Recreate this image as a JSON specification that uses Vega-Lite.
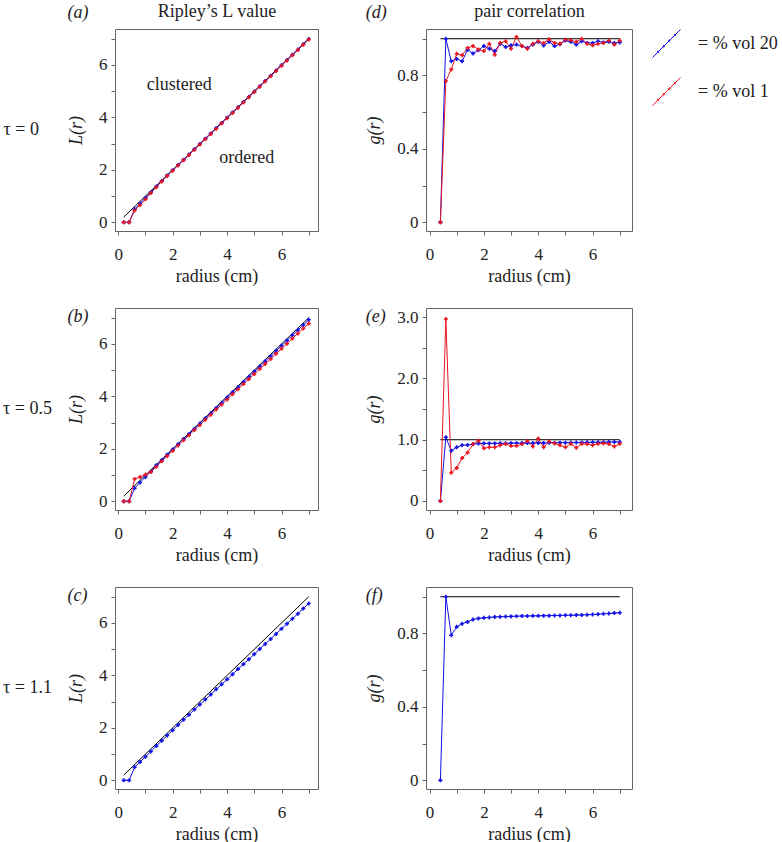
{
  "$schema": "https://vega.github.io/schema/vega-lite/v6.json",
  "autosize": {"type": "none"},
  "padding": {"left": 115, "top": 29, "right": 667, "bottom": 813},
  "background": "white",
  "bounds": "flush",
  "spacing": 279,
  "config": {
    "font": "Liberation Serif",
    "view": {"stroke": "#666", "strokeWidth": 1},
    "axis": {"labelFont": "Liberation Serif", "labelFontSize": 17, "labelColor": "#222", "titleFont": "Liberation Serif", "titleFontSize": 18, "titleFontWeight": "normal", "titleColor": "#222", "tickColor": "#666", "tickSize": 4, "domain": false, "grid": false, "labelPadding": 4, "labelFlush": false},
    "axisBottom": {"labelPadding": 11},
    "title": {"font": "Liberation Serif", "fontSize": 18, "fontWeight": "normal", "color": "#222"},
    "legend": {"orient": "right", "offset": 19, "padding": 0, "symbolSize": 784, "symbolStrokeWidth": 1, "labelFont": "Liberation Serif", "labelFontSize": 18, "labelColor": "#222", "labelOffset": 17, "rowPadding": 15}
  },
  "datasets": {
    "ref": [
      {"p": "L", "r": 0.2, "v": 0.2}, {"p": "L", "r": 7.0, "v": 7.0},
      {"p": "g", "r": 0.4, "v": 1.0}, {"p": "g", "r": 7.0, "v": 1.0}
    ],
    "notes": [
      {"r": 2.24, "v": 5.22, "label": "clustered"},
      {"r": 4.72, "v": 2.46, "label": "ordered"}
    ],
    "L": [
      {"p":"a","s":"20","r":0.2,"v":0},{"p":"a","s":"20","r":0.4,"v":0},{"p":"a","s":"20","r":0.6,"v":0.5},{"p":"a","s":"20","r":0.8,"v":0.72},{"p":"a","s":"20","r":1.0,"v":0.93},{"p":"a","s":"20","r":1.2,"v":1.15},{"p":"a","s":"20","r":1.4,"v":1.37},{"p":"a","s":"20","r":1.6,"v":1.58},{"p":"a","s":"20","r":1.8,"v":1.79},{"p":"a","s":"20","r":2.0,"v":1.99},{"p":"a","s":"20","r":2.2,"v":2.19},{"p":"a","s":"20","r":2.4,"v":2.39},{"p":"a","s":"20","r":2.6,"v":2.59},{"p":"a","s":"20","r":2.8,"v":2.79},{"p":"a","s":"20","r":3.0,"v":2.99},{"p":"a","s":"20","r":3.2,"v":3.19},{"p":"a","s":"20","r":3.4,"v":3.39},{"p":"a","s":"20","r":3.6,"v":3.59},{"p":"a","s":"20","r":3.8,"v":3.79},{"p":"a","s":"20","r":4.0,"v":3.99},{"p":"a","s":"20","r":4.2,"v":4.19},{"p":"a","s":"20","r":4.4,"v":4.39},{"p":"a","s":"20","r":4.6,"v":4.59},{"p":"a","s":"20","r":4.8,"v":4.79},{"p":"a","s":"20","r":5.0,"v":4.99},{"p":"a","s":"20","r":5.2,"v":5.19},{"p":"a","s":"20","r":5.4,"v":5.39},{"p":"a","s":"20","r":5.6,"v":5.59},{"p":"a","s":"20","r":5.8,"v":5.79},{"p":"a","s":"20","r":6.0,"v":5.99},{"p":"a","s":"20","r":6.2,"v":6.19},{"p":"a","s":"20","r":6.4,"v":6.39},{"p":"a","s":"20","r":6.6,"v":6.59},{"p":"a","s":"20","r":6.8,"v":6.79},{"p":"a","s":"20","r":7.0,"v":6.99},
      {"p":"a","s":"1","r":0.2,"v":0},{"p":"a","s":"1","r":0.4,"v":0},{"p":"a","s":"1","r":0.6,"v":0.45},{"p":"a","s":"1","r":0.8,"v":0.66},{"p":"a","s":"1","r":1.0,"v":0.88},{"p":"a","s":"1","r":1.2,"v":1.12},{"p":"a","s":"1","r":1.4,"v":1.34},{"p":"a","s":"1","r":1.6,"v":1.56},{"p":"a","s":"1","r":1.8,"v":1.77},{"p":"a","s":"1","r":2.0,"v":1.97},{"p":"a","s":"1","r":2.2,"v":2.17},{"p":"a","s":"1","r":2.4,"v":2.37},{"p":"a","s":"1","r":2.6,"v":2.57},{"p":"a","s":"1","r":2.8,"v":2.77},{"p":"a","s":"1","r":3.0,"v":2.97},{"p":"a","s":"1","r":3.2,"v":3.17},{"p":"a","s":"1","r":3.4,"v":3.37},{"p":"a","s":"1","r":3.6,"v":3.57},{"p":"a","s":"1","r":3.8,"v":3.77},{"p":"a","s":"1","r":4.0,"v":3.97},{"p":"a","s":"1","r":4.2,"v":4.17},{"p":"a","s":"1","r":4.4,"v":4.37},{"p":"a","s":"1","r":4.6,"v":4.57},{"p":"a","s":"1","r":4.8,"v":4.77},{"p":"a","s":"1","r":5.0,"v":4.97},{"p":"a","s":"1","r":5.2,"v":5.17},{"p":"a","s":"1","r":5.4,"v":5.37},{"p":"a","s":"1","r":5.6,"v":5.57},{"p":"a","s":"1","r":5.8,"v":5.77},{"p":"a","s":"1","r":6.0,"v":5.97},{"p":"a","s":"1","r":6.2,"v":6.17},{"p":"a","s":"1","r":6.4,"v":6.37},{"p":"a","s":"1","r":6.6,"v":6.57},{"p":"a","s":"1","r":6.8,"v":6.77},{"p":"a","s":"1","r":7.0,"v":6.97},
      {"p":"b","s":"20","r":0.2,"v":0},{"p":"b","s":"20","r":0.4,"v":0},{"p":"b","s":"20","r":0.6,"v":0.5},{"p":"b","s":"20","r":0.8,"v":0.72},{"p":"b","s":"20","r":1.0,"v":0.93},{"p":"b","s":"20","r":1.2,"v":1.14},{"p":"b","s":"20","r":1.4,"v":1.38},{"p":"b","s":"20","r":1.6,"v":1.58},{"p":"b","s":"20","r":1.8,"v":1.78},{"p":"b","s":"20","r":2.0,"v":1.98},{"p":"b","s":"20","r":2.2,"v":2.18},{"p":"b","s":"20","r":2.4,"v":2.38},{"p":"b","s":"20","r":2.6,"v":2.57},{"p":"b","s":"20","r":2.8,"v":2.77},{"p":"b","s":"20","r":3.0,"v":2.97},{"p":"b","s":"20","r":3.2,"v":3.17},{"p":"b","s":"20","r":3.4,"v":3.36},{"p":"b","s":"20","r":3.6,"v":3.56},{"p":"b","s":"20","r":3.8,"v":3.76},{"p":"b","s":"20","r":4.0,"v":3.96},{"p":"b","s":"20","r":4.2,"v":4.16},{"p":"b","s":"20","r":4.4,"v":4.35},{"p":"b","s":"20","r":4.6,"v":4.55},{"p":"b","s":"20","r":4.8,"v":4.75},{"p":"b","s":"20","r":5.0,"v":4.95},{"p":"b","s":"20","r":5.2,"v":5.14},{"p":"b","s":"20","r":5.4,"v":5.34},{"p":"b","s":"20","r":5.6,"v":5.54},{"p":"b","s":"20","r":5.8,"v":5.74},{"p":"b","s":"20","r":6.0,"v":5.93},{"p":"b","s":"20","r":6.2,"v":6.13},{"p":"b","s":"20","r":6.4,"v":6.33},{"p":"b","s":"20","r":6.6,"v":6.53},{"p":"b","s":"20","r":6.8,"v":6.72},{"p":"b","s":"20","r":7.0,"v":6.92},
      {"p":"b","s":"1","r":0.2,"v":0},{"p":"b","s":"1","r":0.4,"v":0},{"p":"b","s":"1","r":0.6,"v":0.85},{"p":"b","s":"1","r":0.8,"v":0.93},{"p":"b","s":"1","r":1.0,"v":1.02},{"p":"b","s":"1","r":1.2,"v":1.12},{"p":"b","s":"1","r":1.4,"v":1.32},{"p":"b","s":"1","r":1.6,"v":1.53},{"p":"b","s":"1","r":1.8,"v":1.73},{"p":"b","s":"1","r":2.0,"v":1.93},{"p":"b","s":"1","r":2.2,"v":2.13},{"p":"b","s":"1","r":2.4,"v":2.33},{"p":"b","s":"1","r":2.6,"v":2.52},{"p":"b","s":"1","r":2.8,"v":2.72},{"p":"b","s":"1","r":3.0,"v":2.91},{"p":"b","s":"1","r":3.2,"v":3.11},{"p":"b","s":"1","r":3.4,"v":3.30},{"p":"b","s":"1","r":3.6,"v":3.50},{"p":"b","s":"1","r":3.8,"v":3.69},{"p":"b","s":"1","r":4.0,"v":3.88},{"p":"b","s":"1","r":4.2,"v":4.08},{"p":"b","s":"1","r":4.4,"v":4.27},{"p":"b","s":"1","r":4.6,"v":4.47},{"p":"b","s":"1","r":4.8,"v":4.66},{"p":"b","s":"1","r":5.0,"v":4.85},{"p":"b","s":"1","r":5.2,"v":5.05},{"p":"b","s":"1","r":5.4,"v":5.24},{"p":"b","s":"1","r":5.6,"v":5.43},{"p":"b","s":"1","r":5.8,"v":5.63},{"p":"b","s":"1","r":6.0,"v":5.82},{"p":"b","s":"1","r":6.2,"v":6.01},{"p":"b","s":"1","r":6.4,"v":6.21},{"p":"b","s":"1","r":6.6,"v":6.40},{"p":"b","s":"1","r":6.8,"v":6.59},{"p":"b","s":"1","r":7.0,"v":6.78},
      {"p":"c","s":"20","r":0.2,"v":0},{"p":"c","s":"20","r":0.4,"v":0},{"p":"c","s":"20","r":0.6,"v":0.5},{"p":"c","s":"20","r":0.8,"v":0.7},{"p":"c","s":"20","r":1.0,"v":0.9},{"p":"c","s":"20","r":1.2,"v":1.1},{"p":"c","s":"20","r":1.4,"v":1.31},{"p":"c","s":"20","r":1.6,"v":1.51},{"p":"c","s":"20","r":1.8,"v":1.71},{"p":"c","s":"20","r":2.0,"v":1.91},{"p":"c","s":"20","r":2.2,"v":2.11},{"p":"c","s":"20","r":2.4,"v":2.31},{"p":"c","s":"20","r":2.6,"v":2.50},{"p":"c","s":"20","r":2.8,"v":2.70},{"p":"c","s":"20","r":3.0,"v":2.89},{"p":"c","s":"20","r":3.2,"v":3.08},{"p":"c","s":"20","r":3.4,"v":3.27},{"p":"c","s":"20","r":3.6,"v":3.47},{"p":"c","s":"20","r":3.8,"v":3.66},{"p":"c","s":"20","r":4.0,"v":3.85},{"p":"c","s":"20","r":4.2,"v":4.04},{"p":"c","s":"20","r":4.4,"v":4.24},{"p":"c","s":"20","r":4.6,"v":4.43},{"p":"c","s":"20","r":4.8,"v":4.62},{"p":"c","s":"20","r":5.0,"v":4.81},{"p":"c","s":"20","r":5.2,"v":5.01},{"p":"c","s":"20","r":5.4,"v":5.20},{"p":"c","s":"20","r":5.6,"v":5.39},{"p":"c","s":"20","r":5.8,"v":5.58},{"p":"c","s":"20","r":6.0,"v":5.78},{"p":"c","s":"20","r":6.2,"v":5.97},{"p":"c","s":"20","r":6.4,"v":6.16},{"p":"c","s":"20","r":6.6,"v":6.35},{"p":"c","s":"20","r":6.8,"v":6.55},{"p":"c","s":"20","r":7.0,"v":6.74}
    ],
    "G": [
      {"p":"d","s":"20","r":0.4,"v":0},{"p":"d","s":"20","r":0.6,"v":1.0},{"p":"d","s":"20","r":0.8,"v":0.877},{"p":"d","s":"20","r":1.0,"v":0.89},{"p":"d","s":"20","r":1.2,"v":0.878},{"p":"d","s":"20","r":1.4,"v":0.94},{"p":"d","s":"20","r":1.6,"v":0.92},{"p":"d","s":"20","r":1.8,"v":0.937},{"p":"d","s":"20","r":2.0,"v":0.96},{"p":"d","s":"20","r":2.2,"v":0.946},{"p":"d","s":"20","r":2.4,"v":0.933},{"p":"d","s":"20","r":2.6,"v":0.973},{"p":"d","s":"20","r":2.8,"v":0.955},{"p":"d","s":"20","r":3.0,"v":0.964},{"p":"d","s":"20","r":3.2,"v":0.968},{"p":"d","s":"20","r":3.4,"v":0.96},{"p":"d","s":"20","r":3.6,"v":0.95},{"p":"d","s":"20","r":3.8,"v":0.968},{"p":"d","s":"20","r":4.0,"v":0.983},{"p":"d","s":"20","r":4.2,"v":0.963},{"p":"d","s":"20","r":4.4,"v":0.983},{"p":"d","s":"20","r":4.6,"v":0.96},{"p":"d","s":"20","r":4.8,"v":0.97},{"p":"d","s":"20","r":5.0,"v":0.99},{"p":"d","s":"20","r":5.2,"v":0.983},{"p":"d","s":"20","r":5.4,"v":0.968},{"p":"d","s":"20","r":5.6,"v":0.986},{"p":"d","s":"20","r":5.8,"v":0.977},{"p":"d","s":"20","r":6.0,"v":0.977},{"p":"d","s":"20","r":6.2,"v":0.986},{"p":"d","s":"20","r":6.4,"v":0.98},{"p":"d","s":"20","r":6.6,"v":0.983},{"p":"d","s":"20","r":6.8,"v":0.977},{"p":"d","s":"20","r":7.0,"v":0.98},
      {"p":"d","s":"1","r":0.4,"v":0},{"p":"d","s":"1","r":0.6,"v":0.77},{"p":"d","s":"1","r":0.8,"v":0.833},{"p":"d","s":"1","r":1.0,"v":0.918},{"p":"d","s":"1","r":1.2,"v":0.91},{"p":"d","s":"1","r":1.4,"v":0.95},{"p":"d","s":"1","r":1.6,"v":0.96},{"p":"d","s":"1","r":1.8,"v":0.942},{"p":"d","s":"1","r":2.0,"v":0.933},{"p":"d","s":"1","r":2.2,"v":0.973},{"p":"d","s":"1","r":2.4,"v":0.913},{"p":"d","s":"1","r":2.6,"v":0.977},{"p":"d","s":"1","r":2.8,"v":0.986},{"p":"d","s":"1","r":3.0,"v":0.946},{"p":"d","s":"1","r":3.2,"v":1.01},{"p":"d","s":"1","r":3.4,"v":0.96},{"p":"d","s":"1","r":3.6,"v":0.946},{"p":"d","s":"1","r":3.8,"v":0.973},{"p":"d","s":"1","r":4.0,"v":0.986},{"p":"d","s":"1","r":4.2,"v":0.977},{"p":"d","s":"1","r":4.4,"v":0.997},{"p":"d","s":"1","r":4.6,"v":0.977},{"p":"d","s":"1","r":4.8,"v":0.973},{"p":"d","s":"1","r":5.0,"v":0.995},{"p":"d","s":"1","r":5.2,"v":0.992},{"p":"d","s":"1","r":5.4,"v":0.983},{"p":"d","s":"1","r":5.6,"v":1.0},{"p":"d","s":"1","r":5.8,"v":0.973},{"p":"d","s":"1","r":6.0,"v":0.964},{"p":"d","s":"1","r":6.2,"v":0.973},{"p":"d","s":"1","r":6.4,"v":0.977},{"p":"d","s":"1","r":6.6,"v":0.99},{"p":"d","s":"1","r":6.8,"v":0.968},{"p":"d","s":"1","r":7.0,"v":0.99},
      {"p":"e","s":"20","r":0.4,"v":0},{"p":"e","s":"20","r":0.6,"v":1.04},{"p":"e","s":"20","r":0.8,"v":0.82},{"p":"e","s":"20","r":1.0,"v":0.876},{"p":"e","s":"20","r":1.2,"v":0.91},{"p":"e","s":"20","r":1.4,"v":0.915},{"p":"e","s":"20","r":1.6,"v":0.925},{"p":"e","s":"20","r":1.8,"v":0.94},{"p":"e","s":"20","r":2.0,"v":0.94},{"p":"e","s":"20","r":2.2,"v":0.94},{"p":"e","s":"20","r":2.4,"v":0.94},{"p":"e","s":"20","r":2.6,"v":0.942},{"p":"e","s":"20","r":2.8,"v":0.942},{"p":"e","s":"20","r":3.0,"v":0.944},{"p":"e","s":"20","r":3.2,"v":0.944},{"p":"e","s":"20","r":3.4,"v":0.945},{"p":"e","s":"20","r":3.6,"v":0.946},{"p":"e","s":"20","r":3.8,"v":0.946},{"p":"e","s":"20","r":4.0,"v":0.948},{"p":"e","s":"20","r":4.2,"v":0.948},{"p":"e","s":"20","r":4.4,"v":0.95},{"p":"e","s":"20","r":4.6,"v":0.95},{"p":"e","s":"20","r":4.8,"v":0.952},{"p":"e","s":"20","r":5.0,"v":0.952},{"p":"e","s":"20","r":5.2,"v":0.954},{"p":"e","s":"20","r":5.4,"v":0.954},{"p":"e","s":"20","r":5.6,"v":0.956},{"p":"e","s":"20","r":5.8,"v":0.957},{"p":"e","s":"20","r":6.0,"v":0.958},{"p":"e","s":"20","r":6.2,"v":0.959},{"p":"e","s":"20","r":6.4,"v":0.96},{"p":"e","s":"20","r":6.6,"v":0.961},{"p":"e","s":"20","r":6.8,"v":0.962},{"p":"e","s":"20","r":7.0,"v":0.963},
      {"p":"e","s":"1","r":0.4,"v":0},{"p":"e","s":"1","r":0.6,"v":2.97},{"p":"e","s":"1","r":0.8,"v":0.46},{"p":"e","s":"1","r":1.0,"v":0.54},{"p":"e","s":"1","r":1.2,"v":0.70},{"p":"e","s":"1","r":1.4,"v":0.79},{"p":"e","s":"1","r":1.6,"v":0.93},{"p":"e","s":"1","r":1.8,"v":0.985},{"p":"e","s":"1","r":2.0,"v":0.86},{"p":"e","s":"1","r":2.2,"v":0.876},{"p":"e","s":"1","r":2.4,"v":0.876},{"p":"e","s":"1","r":2.6,"v":0.91},{"p":"e","s":"1","r":2.8,"v":0.93},{"p":"e","s":"1","r":3.0,"v":0.9},{"p":"e","s":"1","r":3.2,"v":0.9},{"p":"e","s":"1","r":3.4,"v":0.925},{"p":"e","s":"1","r":3.6,"v":0.98},{"p":"e","s":"1","r":3.8,"v":0.89},{"p":"e","s":"1","r":4.0,"v":1.02},{"p":"e","s":"1","r":4.2,"v":0.876},{"p":"e","s":"1","r":4.4,"v":0.97},{"p":"e","s":"1","r":4.6,"v":0.94},{"p":"e","s":"1","r":4.8,"v":0.91},{"p":"e","s":"1","r":5.0,"v":0.876},{"p":"e","s":"1","r":5.2,"v":0.935},{"p":"e","s":"1","r":5.4,"v":0.87},{"p":"e","s":"1","r":5.6,"v":0.935},{"p":"e","s":"1","r":5.8,"v":0.93},{"p":"e","s":"1","r":6.0,"v":0.91},{"p":"e","s":"1","r":6.2,"v":0.935},{"p":"e","s":"1","r":6.4,"v":0.94},{"p":"e","s":"1","r":6.6,"v":0.93},{"p":"e","s":"1","r":6.8,"v":0.89},{"p":"e","s":"1","r":7.0,"v":0.935},
      {"p":"f","s":"20","r":0.4,"v":0},{"p":"f","s":"20","r":0.6,"v":1.0},{"p":"f","s":"20","r":0.8,"v":0.79},{"p":"f","s":"20","r":1.0,"v":0.836},{"p":"f","s":"20","r":1.2,"v":0.853},{"p":"f","s":"20","r":1.4,"v":0.863},{"p":"f","s":"20","r":1.6,"v":0.876},{"p":"f","s":"20","r":1.8,"v":0.882},{"p":"f","s":"20","r":2.0,"v":0.885},{"p":"f","s":"20","r":2.2,"v":0.887},{"p":"f","s":"20","r":2.4,"v":0.89},{"p":"f","s":"20","r":2.6,"v":0.891},{"p":"f","s":"20","r":2.8,"v":0.892},{"p":"f","s":"20","r":3.0,"v":0.893},{"p":"f","s":"20","r":3.2,"v":0.894},{"p":"f","s":"20","r":3.4,"v":0.895},{"p":"f","s":"20","r":3.6,"v":0.895},{"p":"f","s":"20","r":3.8,"v":0.896},{"p":"f","s":"20","r":4.0,"v":0.896},{"p":"f","s":"20","r":4.2,"v":0.897},{"p":"f","s":"20","r":4.4,"v":0.897},{"p":"f","s":"20","r":4.6,"v":0.898},{"p":"f","s":"20","r":4.8,"v":0.898},{"p":"f","s":"20","r":5.0,"v":0.899},{"p":"f","s":"20","r":5.2,"v":0.899},{"p":"f","s":"20","r":5.4,"v":0.9},{"p":"f","s":"20","r":5.6,"v":0.901},{"p":"f","s":"20","r":5.8,"v":0.902},{"p":"f","s":"20","r":6.0,"v":0.903},{"p":"f","s":"20","r":6.2,"v":0.905},{"p":"f","s":"20","r":6.4,"v":0.907},{"p":"f","s":"20","r":6.6,"v":0.909},{"p":"f","s":"20","r":6.8,"v":0.911},{"p":"f","s":"20","r":7.0,"v":0.913}
    ]
  },
  "vconcat": [
    {
      "title": {"text": "τ = 0", "orient": "left", "angle": 0, "align": "left", "baseline": "middle", "anchor": "middle", "frame": "group", "offset": 28, "dy": 101},
      "hconcat": [
        {
          "width": 203, "height": 202,
          "title": {"text": "(a)", "anchor": "start", "frame": "bounds", "offset": -20, "fontStyle": "italic"},
          "resolve": {"axis": {"x": "independent"}},
          "layer": [
            {"data": {"name": "ref"}, "transform": [{"filter": "datum.p === 'L'"}],
             "mark": {"type": "line", "color": "#000", "strokeWidth": 1},
             "encoding": {
               "x": {"field": "r", "type": "quantitative", "scale": {"domain": [-0.12, 7.34], "nice": false, "zero": false}, "axis": {"orient": "top", "labels": false, "ticks": false, "domain": false, "title": "Ripley’s L value", "titlePadding": 9}},
               "y": {"field": "v", "type": "quantitative", "scale": {"domain": [-0.33, 7.37], "nice": false, "zero": false}, "axis": {"values": [0,1,2,3,4,5,6,7], "labelExpr": "datum.value % 2 === 0 ? datum.label : ''", "title": "L(r)", "titleFontStyle": "italic", "titlePadding": 13}}
             }},
            {"data": {"name": "L"}, "transform": [{"filter": "datum.p === 'a'"}],
             "mark": {"type": "line", "strokeWidth": 1, "point": {"filled": true, "size": 16, "shape": "cross"}},
             "encoding": {
               "x": {"field": "r", "type": "quantitative", "scale": {"domain": [-0.12, 7.34], "nice": false, "zero": false}, "axis": {"orient": "bottom", "values": [0,1,2,3,4,5,6,7], "labelExpr": "datum.value % 2 === 0 ? datum.label : ''", "title": "radius (cm)", "titlePadding": 5}},
               "y": {"field": "v", "type": "quantitative", "scale": {"domain": [-0.33, 7.37], "nice": false, "zero": false}, "axis": {"values": [0,1,2,3,4,5,6,7], "labelExpr": "datum.value % 2 === 0 ? datum.label : ''", "title": "L(r)", "titleFontStyle": "italic", "titlePadding": 13}},
               "color": {"field": "s", "type": "nominal", "title": null, "scale": {"domain": ["20", "1"], "range": ["#1010e6", "#e8151e"]}, "legend": {"symbolType": "M-1,1L1,-1M-0.68,0.6L-0.52,0.6M-0.6,0.52L-0.6,0.68M-0.28,0.2L-0.12,0.2M-0.2,0.12L-0.2,0.28M0.12,-0.2L0.28,-0.2M0.2,-0.28L0.2,-0.12M0.52,-0.6L0.68,-0.6M0.6,-0.68L0.6,-0.52", "labelExpr": "'= % vol ' + datum.label", "encode": {"symbols": {"update": {"stroke": {"scale": "color", "field": "value"}, "fill": {"value": "transparent"}}}}}}
             }},
            {"data": {"name": "notes"},
             "mark": {"type": "text", "fontSize": 18, "font": "Liberation Serif", "color": "#222"},
             "encoding": {
               "x": {"field": "r", "type": "quantitative", "scale": {"domain": [-0.12, 7.34], "nice": false, "zero": false}, "axis": null},
               "y": {"field": "v", "type": "quantitative", "scale": {"domain": [-0.33, 7.37], "nice": false, "zero": false}, "axis": {"values": [0,1,2,3,4,5,6,7], "labelExpr": "datum.value % 2 === 0 ? datum.label : ''", "title": "L(r)", "titleFontStyle": "italic", "titlePadding": 13}},
               "text": {"field": "label"}
             }}
          ]
        },
        {
          "width": 206, "height": 202,
          "title": {"text": "(d)", "anchor": "start", "frame": "bounds", "offset": -20, "fontStyle": "italic"},
          "resolve": {"axis": {"x": "independent"}},
          "layer": [
            {"data": {"name": "ref"}, "transform": [{"filter": "datum.p === 'g'"}],
             "mark": {"type": "line", "color": "#000", "strokeWidth": 1},
             "encoding": {
               "x": {"field": "r", "type": "quantitative", "scale": {"domain": [-0.13, 7.45], "nice": false, "zero": false}, "axis": {"orient": "top", "labels": false, "ticks": false, "domain": false, "title": "pair correlation", "titlePadding": 9}},
               "y": {"field": "v", "type": "quantitative", "scale": {"domain": [-0.047, 1.053], "nice": false, "zero": false}, "axis": {"values": [0, 0.2, 0.4, 0.6, 0.8, 1.0], "labelExpr": "datum.value === 0 ? '0' : (datum.value === 0.4 || datum.value === 0.8) ? format(datum.value, '.1f') : ''", "title": "g(r)", "titleFontStyle": "italic", "titlePadding": 13}}
             }},
            {"data": {"name": "G"}, "transform": [{"filter": "datum.p === 'd'"}],
             "mark": {"type": "line", "strokeWidth": 1, "point": {"filled": true, "size": 16, "shape": "cross"}},
             "encoding": {
               "x": {"field": "r", "type": "quantitative", "scale": {"domain": [-0.13, 7.45], "nice": false, "zero": false}, "axis": {"orient": "bottom", "values": [0,1,2,3,4,5,6,7], "labelExpr": "datum.value % 2 === 0 ? datum.label : ''", "title": "radius (cm)", "titlePadding": 5}},
               "y": {"field": "v", "type": "quantitative", "scale": {"domain": [-0.047, 1.053], "nice": false, "zero": false}, "axis": {"values": [0, 0.2, 0.4, 0.6, 0.8, 1.0], "labelExpr": "datum.value === 0 ? '0' : (datum.value === 0.4 || datum.value === 0.8) ? format(datum.value, '.1f') : ''", "title": "g(r)", "titleFontStyle": "italic", "titlePadding": 13}},
               "color": {"field": "s", "type": "nominal", "title": null, "scale": {"domain": ["20", "1"], "range": ["#1010e6", "#e8151e"]}, "legend": {"symbolType": "M-1,1L1,-1M-0.68,0.6L-0.52,0.6M-0.6,0.52L-0.6,0.68M-0.28,0.2L-0.12,0.2M-0.2,0.12L-0.2,0.28M0.12,-0.2L0.28,-0.2M0.2,-0.28L0.2,-0.12M0.52,-0.6L0.68,-0.6M0.6,-0.68L0.6,-0.52", "labelExpr": "'= % vol ' + datum.label", "encode": {"symbols": {"update": {"stroke": {"scale": "color", "field": "value"}, "fill": {"value": "transparent"}}}}}}
             }}
          ]
        }
      ],
      "spacing": 108,
      "bounds": "flush"
    },
    {
      "title": {"text": "τ = 0.5", "orient": "left", "angle": 0, "align": "left", "baseline": "middle", "anchor": "middle", "frame": "group", "offset": 15, "dy": 101},
      "hconcat": [
        {
          "width": 203, "height": 202,
          "title": {"text": "(b)", "anchor": "start", "frame": "bounds", "offset": -18, "fontStyle": "italic"},
          "layer": [
            {"data": {"name": "ref"}, "transform": [{"filter": "datum.p === 'L'"}],
             "mark": {"type": "line", "color": "#000", "strokeWidth": 1},
             "encoding": {
               "x": {"field": "r", "type": "quantitative", "scale": {"domain": [-0.12, 7.34], "nice": false, "zero": false}, "axis": {"values": [0,1,2,3,4,5,6,7], "labelExpr": "datum.value % 2 === 0 ? datum.label : ''", "title": "radius (cm)", "titlePadding": 5}},
               "y": {"field": "v", "type": "quantitative", "scale": {"domain": [-0.33, 7.37], "nice": false, "zero": false}, "axis": {"values": [0,1,2,3,4,5,6,7], "labelExpr": "datum.value % 2 === 0 ? datum.label : ''", "title": "L(r)", "titleFontStyle": "italic", "titlePadding": 13}}
             }},
            {"data": {"name": "L"}, "transform": [{"filter": "datum.p === 'b'"}],
             "mark": {"type": "line", "strokeWidth": 1, "point": {"filled": true, "size": 16, "shape": "cross"}},
             "encoding": {
               "x": {"field": "r", "type": "quantitative", "scale": {"domain": [-0.12, 7.34], "nice": false, "zero": false}, "axis": {"values": [0,1,2,3,4,5,6,7], "labelExpr": "datum.value % 2 === 0 ? datum.label : ''", "title": "radius (cm)", "titlePadding": 5}},
               "y": {"field": "v", "type": "quantitative", "scale": {"domain": [-0.33, 7.37], "nice": false, "zero": false}, "axis": {"values": [0,1,2,3,4,5,6,7], "labelExpr": "datum.value % 2 === 0 ? datum.label : ''", "title": "L(r)", "titleFontStyle": "italic", "titlePadding": 13}},
               "color": {"field": "s", "type": "nominal", "title": null, "scale": {"domain": ["20", "1"], "range": ["#1010e6", "#e8151e"]}, "legend": {"symbolType": "M-1,1L1,-1M-0.68,0.6L-0.52,0.6M-0.6,0.52L-0.6,0.68M-0.28,0.2L-0.12,0.2M-0.2,0.12L-0.2,0.28M0.12,-0.2L0.28,-0.2M0.2,-0.28L0.2,-0.12M0.52,-0.6L0.68,-0.6M0.6,-0.68L0.6,-0.52", "labelExpr": "'= % vol ' + datum.label", "encode": {"symbols": {"update": {"stroke": {"scale": "color", "field": "value"}, "fill": {"value": "transparent"}}}}}}
             }}
          ]
        },
        {
          "width": 206, "height": 202,
          "title": {"text": "(e)", "anchor": "start", "frame": "bounds", "offset": -18, "fontStyle": "italic"},
          "layer": [
            {"data": {"name": "ref"}, "transform": [{"filter": "datum.p === 'g'"}],
             "mark": {"type": "line", "color": "#000", "strokeWidth": 1},
             "encoding": {
               "x": {"field": "r", "type": "quantitative", "scale": {"domain": [-0.13, 7.45], "nice": false, "zero": false}, "axis": {"values": [0,1,2,3,4,5,6,7], "labelExpr": "datum.value % 2 === 0 ? datum.label : ''", "title": "radius (cm)", "titlePadding": 5}},
               "y": {"field": "v", "type": "quantitative", "scale": {"domain": [-0.147, 3.15], "nice": false, "zero": false}, "axis": {"values": [0, 0.5, 1, 1.5, 2, 2.5, 3], "labelExpr": "datum.value === 0 ? '0' : datum.value % 1 === 0 ? format(datum.value, '.1f') : ''", "title": "g(r)", "titleFontStyle": "italic", "titlePadding": 13}}
             }},
            {"data": {"name": "G"}, "transform": [{"filter": "datum.p === 'e'"}],
             "mark": {"type": "line", "strokeWidth": 1, "point": {"filled": true, "size": 16, "shape": "cross"}},
             "encoding": {
               "x": {"field": "r", "type": "quantitative", "scale": {"domain": [-0.13, 7.45], "nice": false, "zero": false}, "axis": {"values": [0,1,2,3,4,5,6,7], "labelExpr": "datum.value % 2 === 0 ? datum.label : ''", "title": "radius (cm)", "titlePadding": 5}},
               "y": {"field": "v", "type": "quantitative", "scale": {"domain": [-0.147, 3.15], "nice": false, "zero": false}, "axis": {"values": [0, 0.5, 1, 1.5, 2, 2.5, 3], "labelExpr": "datum.value === 0 ? '0' : datum.value % 1 === 0 ? format(datum.value, '.1f') : ''", "title": "g(r)", "titleFontStyle": "italic", "titlePadding": 13}},
               "color": {"field": "s", "type": "nominal", "title": null, "scale": {"domain": ["20", "1"], "range": ["#1010e6", "#e8151e"]}, "legend": {"symbolType": "M-1,1L1,-1M-0.68,0.6L-0.52,0.6M-0.6,0.52L-0.6,0.68M-0.28,0.2L-0.12,0.2M-0.2,0.12L-0.2,0.28M0.12,-0.2L0.28,-0.2M0.2,-0.28L0.2,-0.12M0.52,-0.6L0.68,-0.6M0.6,-0.68L0.6,-0.52", "labelExpr": "'= % vol ' + datum.label", "encode": {"symbols": {"update": {"stroke": {"scale": "color", "field": "value"}, "fill": {"value": "transparent"}}}}}}
             }}
          ]
        }
      ],
      "spacing": 108,
      "bounds": "flush"
    },
    {
      "title": {"text": "τ = 1.1", "orient": "left", "angle": 0, "align": "left", "baseline": "middle", "anchor": "middle", "frame": "group", "offset": 15, "dy": 101},
      "hconcat": [
        {
          "width": 203, "height": 202,
          "title": {"text": "(c)", "anchor": "start", "frame": "bounds", "offset": -18, "fontStyle": "italic"},
          "layer": [
            {"data": {"name": "ref"}, "transform": [{"filter": "datum.p === 'L'"}],
             "mark": {"type": "line", "color": "#000", "strokeWidth": 1},
             "encoding": {
               "x": {"field": "r", "type": "quantitative", "scale": {"domain": [-0.12, 7.34], "nice": false, "zero": false}, "axis": {"values": [0,1,2,3,4,5,6,7], "labelExpr": "datum.value % 2 === 0 ? datum.label : ''", "title": "radius (cm)", "titlePadding": 5}},
               "y": {"field": "v", "type": "quantitative", "scale": {"domain": [-0.33, 7.37], "nice": false, "zero": false}, "axis": {"values": [0,1,2,3,4,5,6,7], "labelExpr": "datum.value % 2 === 0 ? datum.label : ''", "title": "L(r)", "titleFontStyle": "italic", "titlePadding": 13}}
             }},
            {"data": {"name": "L"}, "transform": [{"filter": "datum.p === 'c'"}],
             "mark": {"type": "line", "strokeWidth": 1, "point": {"filled": true, "size": 16, "shape": "cross"}},
             "encoding": {
               "x": {"field": "r", "type": "quantitative", "scale": {"domain": [-0.12, 7.34], "nice": false, "zero": false}, "axis": {"values": [0,1,2,3,4,5,6,7], "labelExpr": "datum.value % 2 === 0 ? datum.label : ''", "title": "radius (cm)", "titlePadding": 5}},
               "y": {"field": "v", "type": "quantitative", "scale": {"domain": [-0.33, 7.37], "nice": false, "zero": false}, "axis": {"values": [0,1,2,3,4,5,6,7], "labelExpr": "datum.value % 2 === 0 ? datum.label : ''", "title": "L(r)", "titleFontStyle": "italic", "titlePadding": 13}},
               "color": {"field": "s", "type": "nominal", "title": null, "scale": {"domain": ["20", "1"], "range": ["#1010e6", "#e8151e"]}, "legend": {"symbolType": "M-1,1L1,-1M-0.68,0.6L-0.52,0.6M-0.6,0.52L-0.6,0.68M-0.28,0.2L-0.12,0.2M-0.2,0.12L-0.2,0.28M0.12,-0.2L0.28,-0.2M0.2,-0.28L0.2,-0.12M0.52,-0.6L0.68,-0.6M0.6,-0.68L0.6,-0.52", "labelExpr": "'= % vol ' + datum.label", "encode": {"symbols": {"update": {"stroke": {"scale": "color", "field": "value"}, "fill": {"value": "transparent"}}}}}}
             }}
          ]
        },
        {
          "width": 206, "height": 202,
          "title": {"text": "(f)", "anchor": "start", "frame": "bounds", "offset": -18, "fontStyle": "italic"},
          "layer": [
            {"data": {"name": "ref"}, "transform": [{"filter": "datum.p === 'g'"}],
             "mark": {"type": "line", "color": "#000", "strokeWidth": 1},
             "encoding": {
               "x": {"field": "r", "type": "quantitative", "scale": {"domain": [-0.13, 7.45], "nice": false, "zero": false}, "axis": {"values": [0,1,2,3,4,5,6,7], "labelExpr": "datum.value % 2 === 0 ? datum.label : ''", "title": "radius (cm)", "titlePadding": 5}},
               "y": {"field": "v", "type": "quantitative", "scale": {"domain": [-0.047, 1.053], "nice": false, "zero": false}, "axis": {"values": [0, 0.2, 0.4, 0.6, 0.8, 1.0], "labelExpr": "datum.value === 0 ? '0' : (datum.value === 0.4 || datum.value === 0.8) ? format(datum.value, '.1f') : ''", "title": "g(r)", "titleFontStyle": "italic", "titlePadding": 13}}
             }},
            {"data": {"name": "G"}, "transform": [{"filter": "datum.p === 'f'"}],
             "mark": {"type": "line", "strokeWidth": 1, "point": {"filled": true, "size": 16, "shape": "cross"}},
             "encoding": {
               "x": {"field": "r", "type": "quantitative", "scale": {"domain": [-0.13, 7.45], "nice": false, "zero": false}, "axis": {"values": [0,1,2,3,4,5,6,7], "labelExpr": "datum.value % 2 === 0 ? datum.label : ''", "title": "radius (cm)", "titlePadding": 5}},
               "y": {"field": "v", "type": "quantitative", "scale": {"domain": [-0.047, 1.053], "nice": false, "zero": false}, "axis": {"values": [0, 0.2, 0.4, 0.6, 0.8, 1.0], "labelExpr": "datum.value === 0 ? '0' : (datum.value === 0.4 || datum.value === 0.8) ? format(datum.value, '.1f') : ''", "title": "g(r)", "titleFontStyle": "italic", "titlePadding": 13}},
               "color": {"field": "s", "type": "nominal", "title": null, "scale": {"domain": ["20", "1"], "range": ["#1010e6", "#e8151e"]}, "legend": {"symbolType": "M-1,1L1,-1M-0.68,0.6L-0.52,0.6M-0.6,0.52L-0.6,0.68M-0.28,0.2L-0.12,0.2M-0.2,0.12L-0.2,0.28M0.12,-0.2L0.28,-0.2M0.2,-0.28L0.2,-0.12M0.52,-0.6L0.68,-0.6M0.6,-0.68L0.6,-0.52", "labelExpr": "'= % vol ' + datum.label", "encode": {"symbols": {"update": {"stroke": {"scale": "color", "field": "value"}, "fill": {"value": "transparent"}}}}}}
             }}
          ]
        }
      ],
      "spacing": 108,
      "bounds": "flush"
    }
  ]
}
